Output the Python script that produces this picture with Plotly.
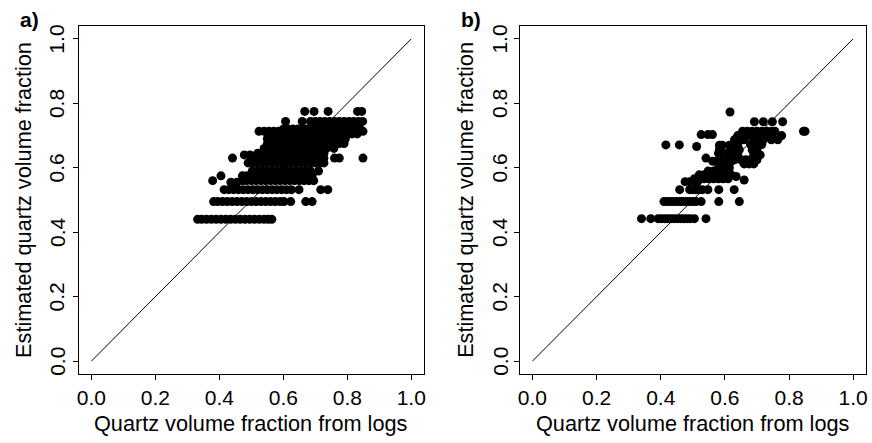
import plotly.graph_objects as go

# ---------------- data ----------------
tick_vals = [0.0, 0.2, 0.4, 0.6, 0.8, 1.0]
tick_text = ["0.0", "0.2", "0.4", "0.6", "0.8", "1.0"]
diag = [0.0, 1.0]

x_title = "Quartz volume fraction from logs"
y_title = "Estimated quartz volume fraction"
panel_labels = ["a)", "b)"]

# panel a: estimated values fall in discrete bands (y), with x values read per band
a_band_y = [0.775, 0.744, 0.72, 0.713, 0.705, 0.69, 0.675, 0.66, 0.645, 0.64,
            0.63, 0.615, 0.59, 0.575, 0.56, 0.555, 0.532, 0.495, 0.44]
a_band_x = [
    [0.667, 0.696, 0.740, 0.832, 0.845],
    [0.607, 0.659, 0.685, 0.70, 0.715, 0.73, 0.745, 0.76, 0.775, 0.79, 0.805, 0.82, 0.835, 0.848],
    [0.60, 0.615, 0.63, 0.645, 0.66, 0.675, 0.69, 0.705, 0.72, 0.735, 0.75, 0.765, 0.78, 0.795, 0.81, 0.825, 0.84],
    [0.524, 0.54, 0.555, 0.57, 0.585, 0.849],
    [0.56, 0.575, 0.59, 0.605, 0.62, 0.635, 0.65, 0.665, 0.68, 0.695, 0.71, 0.725, 0.74, 0.755, 0.77, 0.785, 0.80, 0.815, 0.831],
    [0.55, 0.565, 0.58, 0.595, 0.61, 0.625, 0.64, 0.655, 0.67, 0.685, 0.70, 0.715, 0.73, 0.745, 0.76, 0.775, 0.794],
    [0.55, 0.565, 0.58, 0.595, 0.61, 0.625, 0.64, 0.655, 0.67, 0.685, 0.70, 0.715, 0.73, 0.745, 0.76, 0.775, 0.79],
    [0.54, 0.555, 0.57, 0.585, 0.60, 0.615, 0.63, 0.645, 0.66, 0.675, 0.69, 0.705, 0.72, 0.735, 0.758],
    [0.52, 0.535, 0.55, 0.565, 0.58, 0.595, 0.61, 0.625, 0.64, 0.655, 0.67, 0.685, 0.70, 0.715, 0.727],
    [0.478, 0.496],
    [0.441, 0.50, 0.515, 0.53, 0.545, 0.56, 0.575, 0.59, 0.605, 0.62, 0.635, 0.65, 0.665, 0.68, 0.695, 0.71, 0.727, 0.760, 0.775, 0.849],
    [0.49, 0.505, 0.52, 0.535, 0.55, 0.565, 0.58, 0.595, 0.61, 0.625, 0.64, 0.655, 0.67, 0.685, 0.70, 0.715, 0.727],
    [0.503, 0.52, 0.535, 0.55, 0.565, 0.58, 0.595, 0.61, 0.625, 0.64, 0.655, 0.67, 0.685, 0.71],
    [0.405, 0.472, 0.485, 0.50, 0.515, 0.53, 0.545, 0.56, 0.575, 0.59, 0.605, 0.62, 0.635, 0.65, 0.665, 0.69],
    [0.379, 0.472, 0.485, 0.50, 0.515, 0.53, 0.545, 0.56, 0.575, 0.59, 0.605, 0.62, 0.635, 0.65, 0.665, 0.68, 0.695],
    [0.436, 0.455],
    [0.415, 0.43, 0.445, 0.46, 0.475, 0.49, 0.505, 0.52, 0.535, 0.55, 0.565, 0.58, 0.595, 0.61, 0.625, 0.649, 0.717, 0.739],
    [0.382, 0.395, 0.41, 0.425, 0.44, 0.455, 0.47, 0.485, 0.50, 0.515, 0.53, 0.545, 0.56, 0.575, 0.59, 0.602, 0.623, 0.670, 0.690],
    [0.332, 0.345, 0.36, 0.375, 0.39, 0.405, 0.42, 0.435, 0.45, 0.465, 0.48, 0.495, 0.51, 0.525, 0.54, 0.553, 0.564],
]

# panel b: individual points
b_x = [0.340, 0.369, 0.392, 0.402, 0.412, 0.422, 0.432, 0.442, 0.452, 0.462, 0.472, 0.482, 0.492, 0.505, 0.541,
       0.41, 0.42, 0.43, 0.44, 0.45, 0.46, 0.47, 0.48, 0.49, 0.50, 0.51, 0.526, 0.581, 0.645,
       0.459, 0.49, 0.50, 0.51, 0.52, 0.53, 0.547, 0.581, 0.629,
       0.476, 0.49, 0.505, 0.515,
       0.505, 0.52, 0.535, 0.55, 0.565, 0.58, 0.595, 0.61,
       0.52, 0.535, 0.55, 0.565, 0.58, 0.60, 0.62, 0.635, 0.66,
       0.548, 0.565, 0.58, 0.595, 0.61,
       0.58, 0.60, 0.614,
       0.562, 0.575, 0.59, 0.605, 0.62, 0.541,
       0.58, 0.595, 0.61, 0.583,
       0.416, 0.458, 0.512, 0.583, 0.592, 0.614,
       0.526, 0.547, 0.561,
       0.616,
       0.692, 0.720, 0.748, 0.780,
       0.845, 0.85,
       0.655, 0.67, 0.685, 0.70, 0.715, 0.73, 0.745, 0.756,
       0.64, 0.655, 0.67, 0.685, 0.70, 0.715, 0.73, 0.745, 0.777,
       0.63, 0.645, 0.66, 0.69, 0.705, 0.72, 0.745, 0.765,
       0.625, 0.64, 0.68, 0.70, 0.715,
       0.62, 0.635, 0.645, 0.685, 0.70,
       0.625, 0.64, 0.69, 0.71,
       0.63, 0.65, 0.665, 0.68, 0.70,
       0.66, 0.675, 0.69]
b_y = [0.442] * 15 + \
      [0.495] * 14 + \
      [0.532] * 9 + \
      [0.557] * 4 + \
      [0.566] * 8 + \
      [0.578, 0.578, 0.578, 0.578, 0.578, 0.578, 0.578, 0.573, 0.562] + \
      [0.59] * 5 + \
      [0.60] * 3 + \
      [0.62, 0.62, 0.62, 0.62, 0.62, 0.63] + \
      [0.645, 0.645, 0.645, 0.656] + \
      [0.671, 0.671, 0.666, 0.67, 0.67, 0.67] + \
      [0.703] * 3 + \
      [0.773] + \
      [0.743] * 4 + \
      [0.713] * 2 + \
      [0.713] * 8 + \
      [0.70] * 9 + \
      [0.687] * 8 + \
      [0.672] * 5 + \
      [0.656] * 5 + \
      [0.64] * 4 + \
      [0.625] * 5 + \
      [0.612] * 3

# flatten panel a bands
a_x, a_y = [], []
for yv, xs in zip(a_band_y, a_band_x):
    a_x.extend(xs)
    a_y.extend([yv] * len(xs))

# ---------------- figure ----------------
W, H = 872, 443
FONT = "Liberation Sans, Arial, Helvetica, sans-serif"

fig = go.Figure()
marker = dict(size=9, color="black", line=dict(width=0))

fig.add_trace(go.Scatter(x=diag, y=diag, mode="lines", line=dict(color="black", width=1),
                         xaxis="x", yaxis="y", showlegend=False, hoverinfo="skip"))
fig.add_trace(go.Scatter(x=a_x, y=a_y, mode="markers", marker=marker,
                         xaxis="x", yaxis="y", showlegend=False))
fig.add_trace(go.Scatter(x=diag, y=diag, mode="lines", line=dict(color="black", width=1),
                         xaxis="x2", yaxis="y2", showlegend=False, hoverinfo="skip"))
fig.add_trace(go.Scatter(x=b_x, y=b_y, mode="markers", marker=marker,
                         xaxis="x2", yaxis="y2", showlegend=False))

def px_x(p):
    return p / W

def px_y(p):
    return 1 - p / H

top, bottom = 26, 374
ydom = [px_y(bottom), px_y(top)]
xdom_a = [px_x(77), px_x(424)]
xdom_b = [px_x(520), px_x(868)]

axis_common = dict(
    range=[-0.04, 1.04], tickvals=tick_vals, ticktext=tick_text,
    showgrid=False, zeroline=False, showline=True, linecolor="black", linewidth=1,
    mirror=True, ticks="outside", ticklen=5, tickcolor="black", tickwidth=1,
    tickfont=dict(family=FONT, size=21, color="black"),
)

fig.update_layout(
    width=W, height=H, margin=dict(l=0, r=0, t=0, b=0),
    paper_bgcolor="white", plot_bgcolor="white",
    font=dict(family=FONT, color="black"),
    xaxis=dict(domain=xdom_a, anchor="y", **axis_common),
    yaxis=dict(domain=ydom, anchor="x", showticklabels=False, **axis_common),
    xaxis2=dict(domain=xdom_b, anchor="y2", **axis_common),
    yaxis2=dict(domain=ydom, anchor="x2", showticklabels=False, **axis_common),
)

ann = []
panels = [(xdom_a, 22, panel_labels[0], 28, 55, "y"),
          (xdom_b, 466, panel_labels[1], 471, 500, "y2")]
for dom, ytx, lab, labx, ytick_x, yref in panels:
    ann.append(dict(text=x_title, xref="paper", yref="paper", x=(dom[0] + dom[1]) / 2, y=px_y(423),
                    xanchor="center", yanchor="middle", showarrow=False,
                    font=dict(family=FONT, size=21.7, color="black")))
    ann.append(dict(text=y_title, xref="paper", yref="paper", x=px_x(ytx), y=(ydom[0] + ydom[1]) / 2,
                    xanchor="center", yanchor="middle", textangle=-90, showarrow=False,
                    font=dict(family=FONT, size=21.7, color="black")))
    ann.append(dict(text="<b>%s</b>" % lab, xref="paper", yref="paper", x=px_x(labx), y=px_y(19),
                    xanchor="center", yanchor="middle", showarrow=False,
                    font=dict(family=FONT, size=21, color="black")))
    for tv, tt in zip(tick_vals, tick_text):
        ann.append(dict(text=tt, xref="paper", yref=yref, x=px_x(ytick_x), y=tv,
                        xanchor="center", yanchor="middle", textangle=-90, showarrow=False,
                        font=dict(family=FONT, size=21, color="black")))
fig.update_layout(annotations=ann)

fig.write_html("out.html")
